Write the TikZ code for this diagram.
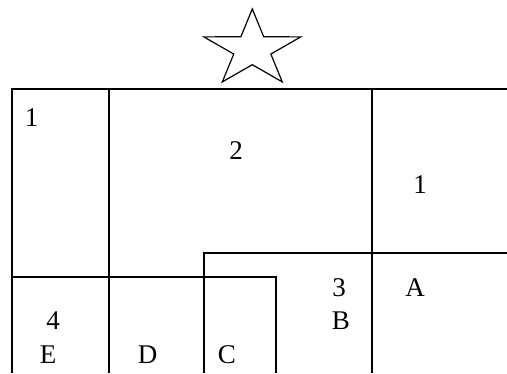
\documentclass[tikz,border=0pt]{standalone}
\usepackage{fontspec}
\setmainfont{Liberation Serif}
\begin{document}
\begin{tikzpicture}[x=1pt,y=-1pt,
  ln/.style={line width=1.3pt,black},
  lbl/.style={inner sep=0pt,font=\fontsize{27}{29}\selectfont}]
\useasboundingbox (0,0) rectangle (507,373);
% grid lines
\coordinate (tl) at (12,89);
\coordinate (tr) at (507,89);
\coordinate (bl) at (12,373);
\draw[ln] (bl) -- (tl) -- (tr);
\draw[ln] (109,89) -- (109,373);
\draw[ln] (372,89) -- (372,373);
\draw[ln] (12,277) -- (276,277) -- (276,373);
\draw[ln] (204,373) -- (204,253) -- (507,253);
% star
\draw[ln, line join=miter, line width=1.2pt, shift={(252.3,49.3)}, yscale=-0.79]
  (90:51) -- (126:19.5) -- (162:51) -- (198:19.5) -- (234:51) -- (270:19.5)
  -- (306:51) -- (342:19.5) -- (18:51) -- (54:19.5) -- cycle;
% labels
\node[lbl] (l1a) at (31.5,117.5) {1};
\node[lbl] (l2) at (236,151) {2};
\node[lbl] (l1b) at (420,184.5) {1};
\node[lbl] (l3) at (339,287.5) {3};
\node[lbl] (lB) at (341,320.5) {B};
\node[lbl] (lA) at (415,287.5) {A};
\node[lbl] (l4) at (53,320.5) {4};
\node[lbl] (lE) at (48,354.5) {E};
\node[lbl] (lD) at (147.5,354.5) {D};
\node[lbl] (lC) at (227,354.5) {C};
\end{tikzpicture}
\end{document}
